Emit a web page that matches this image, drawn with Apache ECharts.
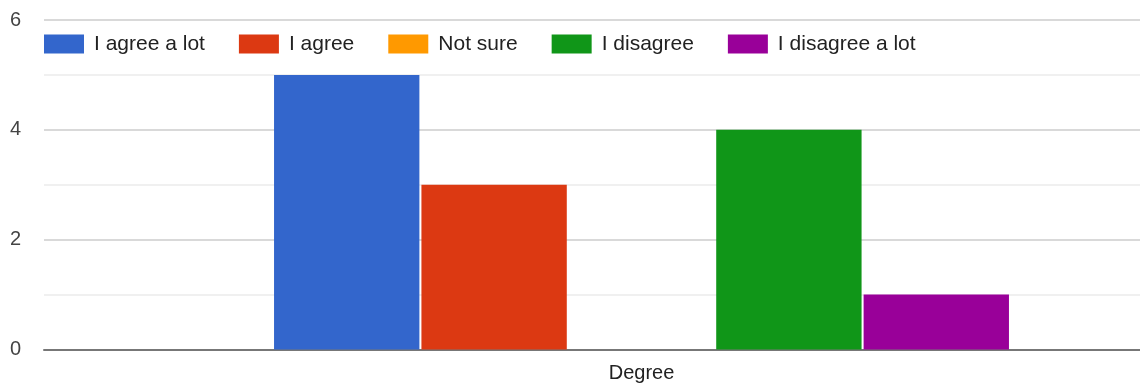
<!DOCTYPE html>
<html>
<head>
<meta charset="utf-8">
<style>
  html, body { margin: 0; padding: 0; background: #fff; overflow: hidden; }
  /* the plot runs past the right edge of the window, as in the source */
  #chart { width: 1240px; height: 385px; }
</style>
<script src="https://cdn.jsdelivr.net/npm/echarts@6/dist/echarts.min.js"></script>
</head>
<body>
<div id="chart"></div>
<script>
const categories = ['Degree']
const seriesNames = ['I agree a lot', 'I agree', 'Not sure', 'I disagree', 'I disagree a lot']
const seriesValues = [[5], [3], [0], [4], [1]]
const seriesColors = ['#3366cc', '#dc3912', '#ff9900', '#109618', '#990099']

const chart = echarts.init(document.getElementById('chart'))

const option = {
  animation: false,
  textStyle: { fontFamily: 'Arial, "Liberation Sans", sans-serif' },
  legend: {
    left: 44,
    top: 33.5,
    padding: 0,
    itemWidth: 40,
    itemHeight: 19,
    itemGap: 34,
    icon: 'rect',
    textStyle: { fontSize: 21, color: '#222', padding: [0, 0, 0, 5] }
  },
  grid: { left: 44, top: 20, width: 1195, height: 329.5 },
  xAxis: {
    type: 'category',
    data: categories,
    axisTick: { show: false },
    axisLine: { lineStyle: { color: '#777', width: 2 } },
    axisLabel: { fontSize: 20, color: '#222', margin: 14 }
  },
  yAxis: {
    type: 'value',
    min: 0,
    max: 6,
    interval: 1,
    axisLine: { show: false },
    axisTick: { show: false },
    axisLabel: {
      fontSize: 20,
      color: '#444',
      margin: 23,
      formatter: v => (v % 2 === 0 ? String(v) : '')
    },
    splitLine: { lineStyle: { color: ['#ccc', '#ebebeb'], width: 1.5 } }
  },
  series: seriesNames.map((name, i) => ({
    name: name,
    type: 'bar',
    data: seriesValues[i],
    itemStyle: { color: seriesColors[i] },
    barGap: '1.4%',
    barCategoryGap: '38.5%'
  }))
}

chart.setOption(option)
</script>
</body>
</html>
